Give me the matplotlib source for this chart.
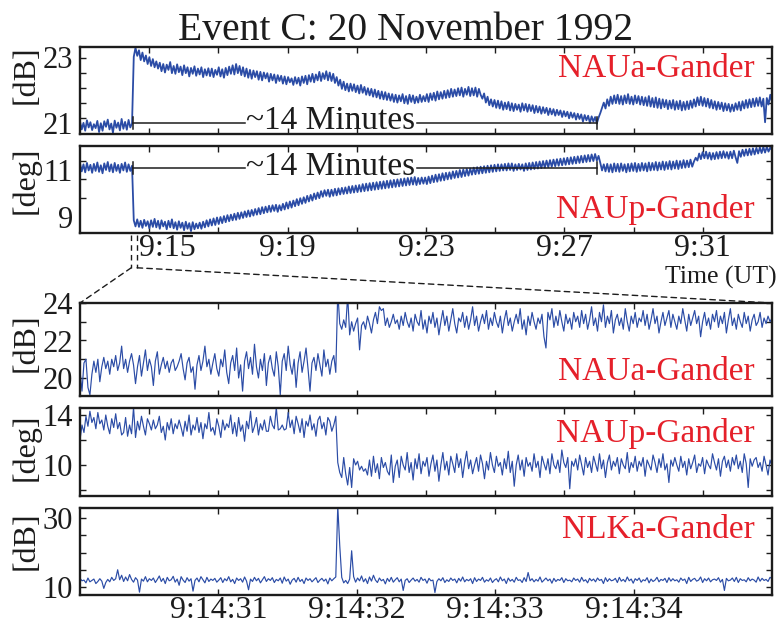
import numpy as np
import matplotlib
matplotlib.use('Agg')
import matplotlib.pyplot as plt
from matplotlib.patches import ConnectionPatch
import matplotlib.transforms as mtransforms

plt.rcParams['font.family'] = ['Liberation Serif', 'DejaVu Serif']

# ---------------- data ----------------
title = "Event C: 20 November 1992"
top_tick_labels = ['9:15', '', '9:19', '', '9:23', '', '9:27', '', '9:31']
bottom_tick_labels = ['9:14:31', '9:14:32', '9:14:33', '9:14:34']
station_labels = ['NAUa-Gander', 'NAUp-Gander', 'NAUa-Gander', 'NAUp-Gander', 'NLKa-Gander']
units = ['[dB]', '[deg]', '[dB]', '[deg]', '[dB]']

# overview: minutes after 9:00, 9:13 -> 9:33
overview_start, overview_end = 13.0, 33.0
nau_amp_overview = [
    21.04, 20.80, 21.00, 20.76, 21.08, 20.86, 21.02, 20.78, 20.96, 20.84, 21.06, 20.72, 20.99, 20.76, 21.05, 20.88,
    21.10, 20.80, 20.98, 20.70, 21.07, 20.85, 21.01, 20.77, 21.12, 20.82, 21.03, 20.79, 21.09, 20.86, 20.98,
    23.02, 23.30, 23.05, 23.22, 22.92, 23.15, 22.88, 23.06, 22.80, 23.01, 22.74, 22.95, 22.70, 22.88, 22.66,
    22.84, 22.58, 22.80, 22.54, 22.78, 22.62, 22.86, 22.52, 22.74, 22.50, 22.79, 22.55, 22.72, 22.46, 22.76, 22.52,
    22.70, 22.42, 22.68, 22.50, 22.73, 22.44, 22.66, 22.48, 22.70, 22.40, 22.64, 22.45, 22.67,
    22.43, 22.66, 22.40, 22.62, 22.47, 22.70, 22.42, 22.64, 22.38, 22.68, 22.46, 22.72, 22.50, 22.76, 22.48, 22.80,
    22.52, 22.74, 22.46, 22.70,
    22.42, 22.66, 22.38, 22.62, 22.35, 22.60, 22.40, 22.58, 22.32, 22.56, 22.30, 22.54, 22.36, 22.52, 22.26, 22.50,
    22.30, 22.48, 22.22, 22.46, 22.28, 22.44, 22.20, 22.42, 22.18, 22.40, 22.24, 22.36,
    22.16, 22.40, 22.20, 22.38, 22.14, 22.42, 22.22, 22.44, 22.18, 22.46, 22.26, 22.50, 22.24, 22.48, 22.30, 22.56,
    22.28, 22.52, 22.34, 22.58, 22.30, 22.54, 22.28, 22.50,
    22.22, 22.40, 22.14, 22.32, 22.04, 22.26, 22.00, 22.20, 21.96,
    22.20, 21.98, 22.18, 21.94, 22.14, 21.90, 22.16, 21.92, 22.10, 21.86, 22.06, 21.84, 22.04, 21.80, 22.02, 21.78,
    21.98, 21.74, 21.96, 21.72, 21.94, 21.70, 21.90, 21.68, 21.88,
    21.64, 21.86, 21.62, 21.84, 21.66, 21.88, 21.60, 21.82, 21.58, 21.86, 21.64, 21.84, 21.60, 21.80, 21.62, 21.86,
    21.64, 21.82,
    21.66, 21.88, 21.64, 21.90, 21.70, 21.92, 21.68, 21.96, 21.72, 21.94, 21.74, 21.98, 21.76, 22.00, 21.78, 22.04,
    21.80, 22.02, 21.82, 22.06, 21.84, 22.08, 21.80, 22.04, 21.86, 22.10, 21.82, 22.06, 21.84, 22.08, 21.80, 22.04,
    21.86,
    21.74, 21.90, 21.62, 21.80, 21.54, 21.72, 21.50, 21.70, 21.46, 21.68, 21.44, 21.66, 21.40, 21.62, 21.42, 21.64,
    21.38, 21.60, 21.36, 21.58, 21.40, 21.56, 21.34,
    21.60, 21.38, 21.58, 21.34, 21.56, 21.36, 21.54, 21.30, 21.52, 21.32, 21.50, 21.28, 21.48, 21.30, 21.46, 21.24,
    21.44, 21.26, 21.42, 21.22, 21.40, 21.24, 21.38, 21.18, 21.36, 21.20, 21.34, 21.14, 21.32, 21.16, 21.30, 21.10,
    21.28, 21.12, 21.26, 21.04, 21.24, 21.08, 21.22, 21.00, 21.20, 21.04, 21.18, 20.98, 21.16,
    21.30, 21.46, 21.62, 21.44, 21.72, 21.52, 21.80, 21.58, 21.84, 21.60, 21.86, 21.58, 21.82, 21.56, 21.84, 21.60,
    21.88, 21.58, 21.80, 21.56, 21.84, 21.60, 21.82,
    21.56, 21.80, 21.54, 21.78, 21.52, 21.82, 21.50, 21.76, 21.48, 21.78, 21.46, 21.74, 21.44, 21.72, 21.48, 21.70,
    21.42, 21.68, 21.44, 21.70, 21.40, 21.66, 21.42, 21.68, 21.38, 21.64, 21.40, 21.66, 21.42,
    21.68, 21.46, 21.72, 21.50, 21.78, 21.54, 21.80, 21.52, 21.76, 21.50, 21.74, 21.46, 21.70, 21.44, 21.66, 21.40,
    21.64, 21.42, 21.62, 21.36, 21.60, 21.38, 21.58, 21.34, 21.56, 21.36, 21.60, 21.40, 21.64, 21.38, 21.66, 21.44,
    21.70, 21.46, 21.72, 21.48, 21.74, 21.50, 21.76, 21.52, 21.78, 21.50, 21.74, 21.02, 21.76, 21.56, 21.86, 21.64,
]
nau_phase_overview = [
    11.28, 10.94, 11.24, 10.90, 11.30, 10.98, 11.22, 10.88, 11.26, 10.96, 11.32, 10.92, 11.20, 10.86, 11.28, 11.00,
    11.34, 10.94, 11.24, 10.90, 11.30, 10.96, 11.22, 10.88, 11.26, 10.98, 11.32, 10.92, 11.24, 10.96, 11.18,
    8.86, 8.60, 8.90, 8.58, 8.84, 8.54, 8.88, 8.62, 8.82, 8.52, 8.86, 8.58, 8.92, 8.56, 8.84, 8.50, 8.86, 8.60, 8.80,
    8.48, 8.84, 8.56, 8.90, 8.52, 8.78, 8.46, 8.82, 8.54, 8.76, 8.44, 8.80, 8.50, 8.74, 8.40, 8.78, 8.48, 8.72, 8.52,
    8.76, 8.50, 8.80, 8.56, 8.86, 8.60, 8.90, 8.64, 8.94, 8.66, 8.98, 8.70, 9.00, 8.74, 9.04, 8.78, 9.08, 8.82, 9.10,
    8.86, 9.14, 8.88, 9.18, 8.92, 9.20, 8.96, 9.24, 9.00, 9.28, 9.02, 9.30, 9.06, 9.34, 9.10, 9.38, 9.12, 9.42, 9.16,
    9.44, 9.20, 9.48, 9.22, 9.50, 9.26, 9.52,
    9.22, 9.50, 9.28, 9.56, 9.32, 9.62, 9.36, 9.66, 9.40, 9.70, 9.46, 9.76, 9.50, 9.80, 9.56, 9.84, 9.60, 9.90, 9.66,
    9.94, 9.70, 10.00, 9.76, 10.04, 9.80, 10.10, 9.86, 10.14, 9.90, 10.16,
    9.86, 10.16, 9.90, 10.20, 9.92, 10.22, 9.96, 10.24, 9.98, 10.26, 10.00, 10.30, 10.02, 10.32, 10.04, 10.34, 10.06,
    10.36, 10.08, 10.40, 10.10, 10.42, 10.12, 10.44, 10.14, 10.46, 10.16, 10.48, 10.18, 10.50, 10.20, 10.52, 10.22,
    10.54, 10.24, 10.56, 10.26, 10.58, 10.28, 10.60, 10.30, 10.62, 10.32, 10.64, 10.34, 10.66, 10.36, 10.68, 10.38,
    10.70, 10.36, 10.66, 10.40, 10.68, 10.42,
    10.68, 10.40, 10.72, 10.44, 10.76, 10.48, 10.80, 10.50, 10.82, 10.54, 10.86, 10.56, 10.88, 10.60, 10.90, 10.62,
    10.94, 10.66, 10.96, 10.68, 11.00, 10.70, 11.02, 10.74, 11.04, 10.76, 11.06, 10.80, 11.10, 10.82, 11.12, 10.84,
    11.14, 10.86, 11.16, 10.88, 11.18, 10.90, 11.20, 10.92, 11.22, 10.94, 11.24, 10.96, 11.24, 10.98, 11.26, 10.98,
    11.28, 11.00, 11.28, 10.96, 11.24, 11.00, 11.26, 11.02,
    11.24, 10.96, 11.28, 11.00, 11.30, 11.02, 11.32, 11.04, 11.34, 11.06, 11.36, 11.08, 11.38, 11.10, 11.40, 11.12,
    11.42, 11.14, 11.44, 11.16, 11.46, 11.18, 11.48, 11.20, 11.50, 11.22, 11.52, 11.24, 11.54, 11.26, 11.56, 11.28,
    11.58, 11.30, 11.60, 11.32, 11.62, 11.34, 11.64, 11.36, 11.66, 11.38, 11.68, 11.40, 11.60,
    11.30, 10.98, 11.24, 10.94, 11.26, 10.92, 11.24, 10.90, 11.28, 10.94, 11.26, 10.92, 11.28, 10.96, 11.24, 10.90,
    11.26, 10.94, 11.28, 10.96, 11.30, 10.92, 11.26, 10.96, 11.30, 10.98, 11.28, 10.94, 11.32, 10.98, 11.30, 11.00,
    11.34, 10.98, 11.32, 11.02, 11.36, 11.00, 11.34, 11.04, 11.38, 11.02, 11.36, 11.06, 11.40, 11.04, 11.38, 11.08,
    11.42, 11.10, 11.40, 11.12, 11.44, 11.14,
    11.36, 11.52, 11.40, 11.70, 11.46, 11.76, 11.50, 11.78, 11.48, 11.74, 11.44, 11.72, 11.46, 11.76, 11.48, 11.78,
    11.50, 11.80, 11.52, 11.76, 11.48, 11.78, 11.50, 11.82, 11.54, 11.30, 11.80, 11.56, 11.86, 11.60, 11.88, 11.62,
    11.90, 11.64, 11.92, 11.66, 11.94, 11.70, 11.96, 11.72, 11.98, 11.74, 11.98, 11.78, 11.96, 11.84,
]

# zoom: seconds after 9:14:30, 0 -> 5 s
zoom_start, zoom_end = 0.0, 5.0
nau_amp_zoom = [
    20.4, 19.3, 20.8, 21.0, 19.5, 19.1, 20.2, 20.9, 20.3, 21.0, 19.8, 20.6, 21.1, 20.5, 20.9, 20.2, 21.0, 20.6, 21.2, 20.4,
    20.8, 21.7, 20.5, 21.0, 20.3, 20.9, 21.3, 20.7, 19.7, 20.6, 21.2, 20.1, 20.8, 21.5, 20.4, 21.0, 20.6, 19.6, 20.9, 21.4,
    20.2, 20.7, 21.1, 20.5, 20.9, 20.3, 20.8, 21.0, 20.4, 20.6, 20.9, 21.3, 20.5, 19.9, 20.8, 21.1, 20.3, 20.6, 19.4, 20.7,
    21.2, 20.4, 20.9, 21.7, 20.6, 21.0, 20.2, 20.8, 21.3, 20.5, 20.1, 21.0, 20.6, 21.5, 20.3, 19.7, 20.8, 21.2, 20.4, 21.6,
    20.0, 20.7, 19.3, 20.9, 21.4, 20.5, 21.1, 20.2, 21.8, 20.6, 20.0, 21.0, 20.4, 21.3, 19.6, 20.8, 21.2, 20.5, 20.1, 21.4,
    20.6, 19.1, 20.9, 21.3, 20.4, 21.7, 20.7, 20.2, 21.0, 19.5, 20.8, 21.4, 20.3, 20.9, 21.6, 20.5, 19.3, 20.8, 21.1, 20.4,
    21.3, 20.7, 20.1, 21.5, 20.6, 21.0, 20.2, 20.9, 21.2, 20.3,
    24.6, 22.9, 22.6, 23.1, 22.7, 24.4, 22.3, 23.0, 22.5, 22.9, 23.2, 21.5, 22.8, 23.0, 22.6, 23.3, 22.9, 22.4, 23.1, 23.5,
    22.9, 23.8, 23.6, 23.7, 22.8, 23.2, 22.7, 23.0, 23.4, 22.9, 23.1, 22.6, 23.3, 22.8, 23.5, 23.0, 22.7, 23.2, 22.5, 23.4,
    23.0, 22.8, 23.6, 22.6, 23.1, 22.4, 23.3, 22.9, 23.5, 22.7, 23.2, 22.3, 23.0, 23.6, 22.8, 23.3, 22.5, 23.1, 23.7, 22.9,
    22.4, 23.2, 23.0, 23.5, 22.7, 23.3, 22.6, 23.1, 23.8, 22.8, 23.3, 22.5, 23.0, 23.4, 22.9, 23.6, 22.6, 23.2, 22.8, 23.5,
    23.0, 22.7, 23.3, 22.4, 23.1, 23.6, 22.8, 23.2, 22.5, 23.0, 23.4, 22.9, 23.7, 22.6, 23.1, 22.3, 23.3, 22.8, 23.5, 23.0,
    22.6, 23.2, 22.9, 23.4, 22.2, 21.6, 23.5, 23.1, 23.7, 22.7, 23.3, 22.8, 23.6, 23.0, 22.5, 23.4, 22.9, 23.2, 22.6, 23.5,
    23.0, 23.3, 22.7, 23.6, 22.9, 23.4, 22.6, 23.1, 23.8, 22.8, 23.2, 22.5, 23.5, 23.0, 23.9, 22.7, 23.3, 22.9, 23.6, 22.4,
    23.1, 23.4, 22.8, 23.2, 22.6, 23.7, 23.0, 22.5, 23.3, 22.9, 23.5, 22.7, 23.2, 23.0, 23.6, 22.8, 23.4, 22.6, 23.1, 23.7,
    22.9, 23.3, 22.4, 23.0, 23.5, 22.8, 23.2, 23.6, 22.7, 23.4, 23.0, 22.6, 23.3, 22.9, 23.7, 23.1, 22.5, 23.4, 22.8, 23.2,
    23.6, 22.9, 23.3, 22.2, 23.0, 23.5, 22.8, 23.2, 22.6, 23.4, 23.0, 23.6, 22.7, 23.3, 22.9, 23.5, 22.4, 23.1, 23.7, 22.8,
    23.2, 22.6, 23.4, 23.0, 22.7, 23.5, 22.9, 23.3, 22.5, 23.1, 23.4, 22.8, 23.0, 23.5, 22.7, 23.2, 22.9, 23.3, 23.0, 23.2,
]
nau_phase_zoom = [
    12.0, 13.2, 12.6, 13.9, 13.1, 14.3, 13.4, 13.8, 12.9, 14.2, 13.3, 13.6, 12.8, 14.0, 13.1, 12.5, 13.7, 13.0, 14.1, 12.9,
    13.4, 12.4, 12.6, 13.8, 12.3, 13.2, 12.5, 14.6, 12.2, 13.5, 12.8, 13.9, 13.1, 12.4, 13.7, 13.3, 12.8, 13.6, 12.9, 13.2,
    13.9, 12.6, 13.1, 12.0, 13.4, 12.8, 13.7, 12.5, 13.3, 12.9, 13.6, 13.0, 12.3, 13.5, 12.7, 14.0, 12.4, 13.2, 12.8, 13.8,
    12.6, 13.4, 12.1, 13.3, 12.9, 14.2, 12.7, 13.0, 12.4, 13.7, 13.1, 12.2, 13.6, 12.8, 13.3, 13.0, 14.0, 12.5, 13.4, 12.3,
    13.8, 12.7, 13.2, 11.9, 13.5, 12.9, 14.3, 12.6, 13.1, 13.8, 12.4, 13.3, 12.8, 13.6, 12.7, 12.7, 13.9, 13.2, 12.9, 14.6,
    12.8, 12.9, 13.2, 12.8, 12.9, 14.2, 13.0, 13.6, 12.5, 13.9, 13.3, 12.6, 13.7, 12.2, 13.5, 13.1, 14.0, 12.8, 13.3, 12.3,
    13.6, 13.9, 12.9, 13.4, 12.4, 13.8, 13.5, 12.7, 13.2, 13.9,
    10.2, 9.4, 9.0, 10.6, 9.3, 8.4, 9.8, 8.2, 10.5, 10.0, 10.3, 9.6, 9.9, 9.5, 9.7, 9.2, 10.4, 9.1, 10.7, 9.4,
    10.1, 8.9, 10.6, 9.8, 10.2, 9.5, 9.2, 10.8, 8.6, 9.9, 10.4, 9.0, 10.7, 10.0, 9.6, 11.0, 9.4, 10.2, 8.8, 10.5,
    9.7, 10.9, 9.3, 10.3, 9.9, 10.6, 9.1, 10.1, 10.8, 9.5, 10.4, 8.7, 10.0, 11.0, 9.6, 10.3, 9.2, 10.7, 10.1, 9.4,
    10.9, 9.8, 10.5, 9.0, 10.2, 11.1, 9.7, 10.4, 9.3, 10.0, 10.6, 9.5, 10.8, 10.1, 8.9, 10.3, 9.6, 11.0, 10.0, 9.4,
    10.7, 9.9, 10.2, 9.2, 10.5, 9.7, 11.1, 9.4, 10.3, 8.3, 10.0, 10.8, 9.6, 10.4, 9.1, 10.6, 9.9, 10.2, 9.5, 10.9,
    9.8, 10.3, 9.0, 10.7, 10.1, 9.6, 10.5, 9.3, 10.9, 10.0, 9.7, 10.4, 9.4, 11.2, 10.2, 9.8, 10.6, 8.1, 10.3, 9.9,
    10.5, 9.6, 10.8, 10.0, 9.2, 10.6, 9.8, 10.3, 9.4, 10.7, 10.1, 9.5, 10.9, 9.7, 10.4, 9.0, 10.2, 10.8, 9.6, 10.3,
    9.9, 10.6, 9.3, 10.5, 10.0, 9.7, 11.0, 9.4, 10.2, 9.8, 10.7, 9.5, 10.3, 9.9, 10.6, 9.1, 10.4, 10.0, 9.6, 10.8,
    10.2, 9.4, 10.5, 9.8, 10.9, 9.6, 10.1, 8.6, 10.4, 9.9, 10.6, 10.0, 9.5, 10.7, 9.8, 10.3, 9.2, 10.5, 9.7, 10.2,
    10.8, 9.4, 10.1, 9.9, 10.6, 9.3, 10.4, 10.0, 9.7, 10.9, 10.2, 9.6, 10.5, 9.1, 10.3, 10.7, 9.8, 10.4, 9.5, 10.6,
    10.0, 10.8, 9.7, 10.3, 9.4, 10.9, 10.1, 8.2, 10.5, 9.9, 10.4, 10.6, 9.8, 10.2, 9.5, 10.7, 10.0, 9.2, 10.4, 9.9,
]
nlk_amp_zoom = [
    12.5, 11.8, 12.0, 11.2, 12.6, 11.5, 11.9, 12.3, 11.0, 11.6, 12.4, 11.7, 9.6, 11.3, 12.2, 11.5, 12.8, 11.9, 12.4, 15.0,
    12.1, 13.4, 11.6, 12.9, 11.8, 13.6, 12.2, 11.4, 12.7, 12.0, 8.5, 12.3, 11.7, 13.0, 11.5, 12.4, 11.9, 12.6, 11.3, 12.2,
    13.2, 11.6, 12.5, 11.0, 12.8, 11.8, 12.1, 13.1, 11.4, 12.3, 10.5, 13.0, 12.0, 11.3, 12.7, 11.7, 12.4, 8.8, 11.9, 12.6,
    11.5, 13.0, 12.1, 11.2, 12.8, 11.6, 12.3, 11.9, 12.5, 11.4, 12.0, 12.7, 11.3, 12.4, 11.8, 13.0, 11.5, 12.2, 11.0, 12.6,
    11.9, 12.4, 11.4, 12.9, 11.7, 9.2, 12.3, 11.6, 12.8, 11.8, 12.5, 11.2, 12.1, 13.0, 11.6, 12.4, 11.9, 12.7, 11.3, 12.2,
    11.8, 12.6, 11.1, 12.9, 11.7, 12.3, 10.8, 12.0, 12.5, 11.4, 12.8, 11.6, 12.2, 11.0, 12.6, 11.9, 12.4, 11.5, 12.1, 12.7,
    11.3, 12.0, 12.5, 11.7, 12.3, 10.9, 12.6, 11.8, 12.4, 12.9,
    33.5, 22.0, 12.8, 11.2, 11.9, 11.0, 12.3, 20.5, 13.0, 11.4, 12.6, 11.8, 13.2, 11.5, 12.4, 11.0, 12.9, 11.7, 13.4, 12.0,
    11.3, 12.6, 11.8, 12.2, 10.9, 12.5, 11.6, 12.8, 11.4, 12.1, 12.7, 11.5, 12.3, 9.0, 11.9, 12.4, 11.3, 12.0, 12.6, 11.7,
    12.2, 11.4, 12.8, 11.9, 12.3, 11.1, 12.5, 11.8, 12.0, 8.4, 11.6, 12.4, 11.8, 12.7, 11.3, 12.1, 11.6, 12.6, 11.9, 12.3,
    11.2, 12.5, 11.7, 12.9, 11.5, 12.2, 11.8, 12.4, 11.0, 12.7, 11.6, 12.3, 11.9, 12.8, 11.4, 12.1, 11.7, 12.6, 11.3, 12.0,
    12.4, 11.5, 12.9, 11.8, 12.3, 11.0, 12.6, 11.7, 12.2, 11.4, 12.8, 11.9, 12.1, 11.3, 12.7, 11.6, 14.2, 11.8, 12.4, 11.5,
    12.2, 11.7, 12.9, 11.4, 12.0, 12.6, 11.8, 12.3, 11.1, 12.5, 11.6, 12.2, 11.9, 12.7, 11.3, 12.4, 11.8, 12.0, 11.5, 12.6,
    11.9, 12.3, 11.4, 12.8, 11.7, 12.1, 11.2, 12.5, 11.8, 12.3, 11.5, 12.6, 11.9, 12.2, 11.0, 12.7, 11.6, 12.4, 11.8, 12.0,
    12.5, 11.3, 12.8, 11.7, 12.2, 11.5, 12.9, 11.8, 12.3, 11.1, 12.4, 11.9, 12.6, 11.4, 12.1, 11.8, 12.7, 11.2, 12.3, 11.6,
    12.0, 12.8, 11.5, 12.2, 11.9, 12.5, 11.3, 12.7, 11.7, 12.4, 11.8, 12.1, 11.4, 12.6, 11.9, 12.3, 11.0, 12.8, 11.6, 12.2,
    12.5, 11.7, 12.0, 12.9, 11.3, 12.4, 11.8, 12.6, 11.5, 12.1, 12.3, 11.9, 12.7, 11.4, 12.2, 9.0, 12.5, 11.8, 12.0, 12.6,
    11.6, 12.8, 11.3, 12.4, 11.9, 12.1, 11.5, 12.7, 11.8, 12.3, 12.0, 11.4, 12.9, 11.7, 12.5, 11.9, 12.2, 11.6, 12.8, 12.4,
]

# "~14 Minutes" marker (minutes after 9:00)
event_start_min = 14.53
event_end_min = 27.94

# ---------------- layout / style ----------------
W, H = 779, 628
BLUE = '#2B4CA6'
RED = '#E5202A'
INK = '#1c1c1c'
fig = plt.figure(figsize=(W / 100, H / 100), dpi=100)


def ax_at(l, t, r, b):
    return fig.add_axes([l / W, 1 - b / H, (r - l) / W, (b - t) / H])


def style(ax):
    for s in ax.spines.values():
        s.set_linewidth(1.7)
        s.set_color(INK)
    ax.tick_params(which='both', direction='in', top=True, right=True,
                   length=4, width=1.0, colors=INK)
    ax.tick_params(axis='y', labelsize=22, pad=5)
    ax.tick_params(axis='x', labelsize=23, pad=0.6)


ax1 = ax_at(80, 47, 772, 134)
ax2 = ax_at(80, 146, 772, 233)
ax3 = ax_at(80, 303, 772, 396)
ax4 = ax_at(80, 408, 772, 496)
ax5 = ax_at(80, 508, 772, 595)

t_over = np.linspace(overview_start, overview_end, len(nau_amp_overview))
t_over_p = np.linspace(overview_start, overview_end, len(nau_phase_overview))
ax1.plot(t_over, nau_amp_overview, color=BLUE, lw=1.3)
ax2.plot(t_over_p, nau_phase_overview, color=BLUE, lw=1.3)

t_z1 = np.linspace(zoom_start, zoom_end, len(nau_amp_zoom))
t_z2 = np.linspace(zoom_start, zoom_end, len(nau_phase_zoom))
t_z3 = np.linspace(zoom_start, zoom_end, len(nlk_amp_zoom))
ax3.plot(t_z1, nau_amp_zoom, color=BLUE, lw=0.85)
ax4.plot(t_z2, nau_phase_zoom, color=BLUE, lw=0.85)
ax5.plot(t_z3, nlk_amp_zoom, color=BLUE, lw=0.85)

for ax in (ax1, ax2, ax3, ax4, ax5):
    style(ax)

# overview axes
for ax in (ax1, ax2):
    ax.set_xlim(overview_start, overview_end)
    ax.set_xticks(np.arange(15, 32, 2))
ax1.tick_params(axis='x', labelbottom=False)
ax2.set_xticklabels(top_tick_labels)

ax1.set_ylim(20.66, 23.32)
ax1.set_yticks([21, 23])
ax1.set_yticks([22.99, 22.53, 22.08, 21.62, 21.16], minor=True)
ax1.tick_params(axis='y', which='major', length=0)

ax2.set_ylim(8.32, 12.02)
ax2.set_yticks([9, 11])
ax2.set_yticks([9.0, 9.8, 10.6, 11.4], minor=True)
ax2.tick_params(axis='y', which='major', length=0)

# zoom axes
for ax in (ax3, ax4, ax5):
    ax.set_xlim(zoom_start, zoom_end)
ax3.set_xticks([1, 2, 3, 4])
ax4.set_xticks(np.arange(0.5, 5, 0.5))
ax5.set_xticks([1, 2, 3, 4])
ax3.tick_params(axis='x', labelbottom=False)
ax4.tick_params(axis='x', labelbottom=False)
ax5.set_xticklabels(bottom_tick_labels)

ax3.set_ylim(19.04, 24.0)
ax3.set_yticks([20, 22, 24])
ax3.set_yticks([21, 23], minor=True)
ax4.set_ylim(7.52, 14.56)
ax4.set_yticks([10, 14])
ax4.set_yticks([8, 12], minor=True)
ax5.set_ylim(7.68, 32.9)
ax5.set_yticks([10, 30])
ax5.set_yticks([15, 20, 25], minor=True)

# shift the "9:15" label to the right (as in the original figure)
lab = ax2.get_xticklabels()[0]
lab.set_transform(lab.get_transform() +
                  mtransforms.ScaledTranslation(0.18, 0, fig.dpi_scale_trans))

# station labels
label_pos = [(ax1, 0.655), (ax2, 0.174), (ax3, 0.172), (ax4, 0.614), (ax5, 0.655)]
for (ax, yf), txt in zip(label_pos, station_labels):
    ax.text(0.975, yf, txt, transform=ax.transAxes, ha='right', va='baseline',
            color=RED, fontsize=24)

# y labels
for yc, txt in zip([75, 180, 343, 447, 541], units):
    fig.text(26 / W, 1 - yc / H, txt, rotation=90, ha='center', va='center',
             fontsize=23, color=INK)

# title and time label
fig.text(406 / W, 1 - 40 / H, title, ha='center', va='baseline', fontsize=28.5, color=INK)
fig.text(777 / W, 1 - 277 / H, 'Time (UT)', ha='right', va='center', fontsize=18.5, color=INK)

# "~14 Minutes" markers
gap_l, gap_r = 17.77, 22.74
for ax, ylev, ytxt, dy in ((ax1, 21.0, 20.82, 0.19), (ax2, 11.085, 10.79, 0.25)):
    ax.plot([event_start_min, gap_l], [ylev, ylev], color=INK, lw=1.1)
    ax.plot([gap_r, event_end_min], [ylev, ylev], color=INK, lw=1.1)
    ax.plot([event_end_min, event_end_min], [ylev - dy, ylev + dy], color=INK, lw=1.1)
    ax.plot([event_start_min, event_start_min], [ylev - dy, ylev + dy], color=INK, lw=1.1)
    ax.text((gap_l + gap_r) / 2, ytxt, '~14 Minutes', ha='center', va='baseline',
            fontsize=24, color=INK)

# dashed zoom bracket
xa, xb = 14.48, 14.65
trans2 = ax2.get_xaxis_transform()
dash = (0, (4, 3))
for x in (xa, xb):
    ax2.plot([x, x], [-0.02, -0.40], transform=trans2, ls=dash, color=INK, lw=1.0, clip_on=False)
for (x, bx) in ((xa, 0.0), (xb, 1.0)):
    cp = ConnectionPatch(xyA=(x, -0.40), coordsA=trans2, xyB=(bx, 1.0), coordsB=ax3.transAxes,
                         linestyle=dash, color=INK, lw=1.0)
    fig.add_artist(cp)

fig.savefig('out.png', dpi=100)
